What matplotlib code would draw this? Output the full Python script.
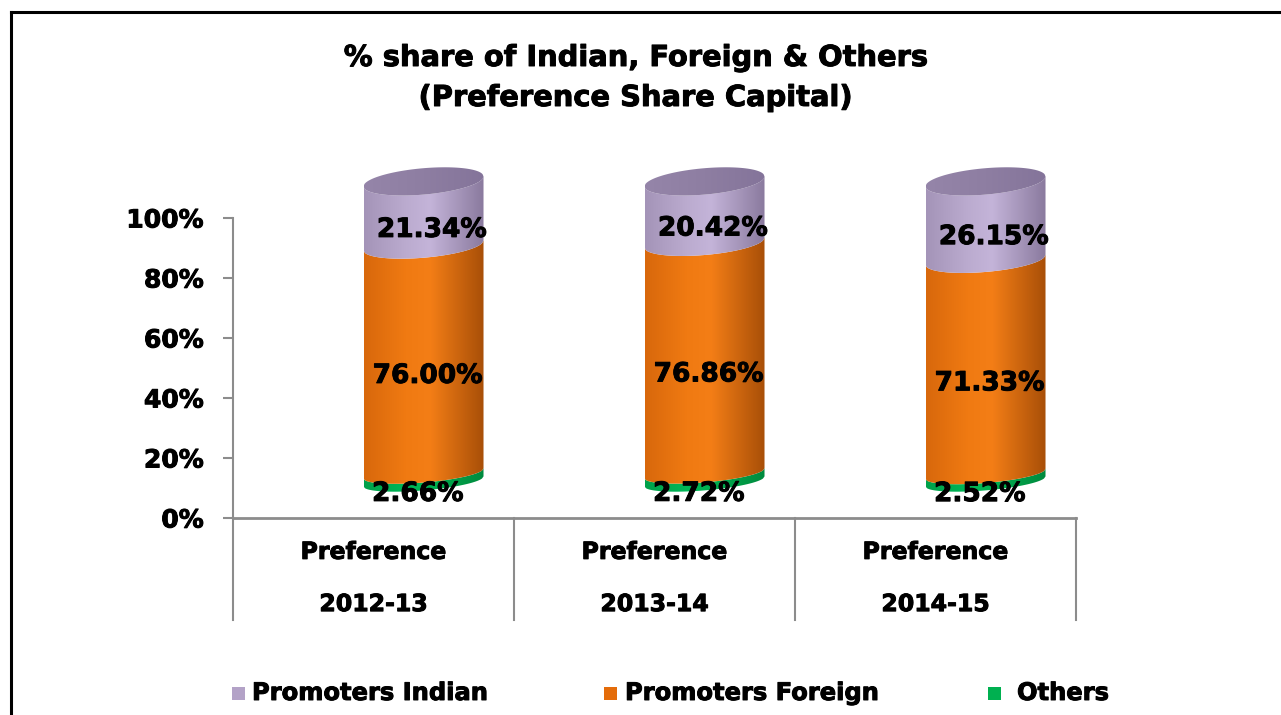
import numpy as np
import matplotlib
matplotlib.use("Agg")
import matplotlib.pyplot as plt
import matplotlib.patheffects as pe
from matplotlib.patches import Polygon, Rectangle
from matplotlib.lines import Line2D
from matplotlib.colors import LinearSegmentedColormap

# ---------- data ----------
years = ["2012-13", "2013-14", "2014-15"]
category = "Preference"
others = [2.66, 2.72, 2.52]
promoters_foreign = [76.00, 76.86, 71.33]
promoters_indian = [21.34, 20.42, 26.15]
series_names = ["Promoters Indian", "Promoters Foreign", "Others"]
y_ticks = [0, 20, 40, 60, 80, 100]

# shading ramps (left edge -> highlight -> right edge)
ramp_green = ["#00A04A", "#00B858", "#00B050", "#008A3E"]
ramp_orange = ["#D8680C", "#F07A12", "#F47E16", "#A84F08"]
ramp_purple = ["#A494B8", "#BBABCF", "#C4B4D9", "#8A7A9E"]
cap_purple = ["#9585A9", "#8E7EA2", "#84749A"]
legend_colors = ["#B3A2C7", "#E46C0A", "#00B050"]

plt.rcParams["font.family"] = "DejaVu Sans"
plt.rcParams["font.weight"] = "bold"
heavy = [pe.withStroke(linewidth=0.7, foreground="black")]

W, H = 1281, 715
fig = plt.figure(figsize=(W / 100, H / 100), dpi=100)

# axes box: y from 0 to 120 so the cylinder tops fit inside
ax = fig.add_axes([233 / W, (H - 518) / H, (1076 - 233) / W, 360 / H])
ax.set_xlim(-0.5, 2.5)
ax.set_ylim(0, 120)
ax.patch.set_alpha(0)

# ---------- cylinder geometry ----------
dx = 0.178     # depth shift to the right
a = 0.2135     # half width
b_bot, b_top = 3.0, 4.4   # ellipse half height (perspective: flatter at bottom)
tilt = 7.8     # ellipse slant
base = 12.2    # depth shift upward
label_dx = [-0.02, 0.015, 0.03]   # others, foreign, indian


def b_at(yc):
    return b_bot + (b_top - b_bot) * (yc - base) / 100.0


def front_arc(cx, yc, n=80):
    xs = np.linspace(cx - a, cx + a, n)
    t = (xs - cx) / a
    ys = yc + tilt * (xs - cx) - b_at(yc) * np.sqrt(np.clip(1 - t ** 2, 0, 1))
    return xs, ys


def shaded_piece(cx, y0, y1, ramp):
    xs0, ys0 = front_arc(cx, y0)
    xs1, ys1 = front_arc(cx, y1)
    pts = np.vstack([np.column_stack([xs0, ys0]),
                     np.column_stack([xs1[::-1], ys1[::-1]])])
    poly = Polygon(pts, closed=True, facecolor="none", edgecolor="none")
    ax.add_patch(poly)
    cmap = LinearSegmentedColormap.from_list(
        "r", list(zip([0, 0.35, 0.55, 1.0], ramp)))
    grad = np.linspace(0, 1, 256).reshape(1, -1)
    im = ax.imshow(grad, cmap=cmap, aspect="auto", interpolation="bilinear",
                   extent=[cx - a, cx + a, y0 - 6 - tilt * a, y1 + 6 + tilt * a],
                   zorder=2)
    im.set_clip_path(poly)


for i in range(len(years)):
    cx = i + dx
    segs = [(others[i], ramp_green),
            (promoters_foreign[i], ramp_orange),
            (promoters_indian[i], ramp_purple)]
    y = base
    for val, ramp in segs:
        shaded_piece(cx, y, y + val, ramp)
        y += val
    # top cap
    top = base + others[i] + promoters_foreign[i] + promoters_indian[i]
    xs = np.linspace(cx - a, cx + a, 120)
    t = (xs - cx) / a
    half = b_at(top) * np.sqrt(np.clip(1 - t ** 2, 0, 1))
    pts = np.vstack([np.column_stack([xs, top + tilt * (xs - cx) - half]),
                     np.column_stack([xs[::-1], (top + tilt * (xs - cx) + half)[::-1]])])
    cap = Polygon(pts, closed=True, facecolor="none", edgecolor="none")
    ax.add_patch(cap)
    cmap = LinearSegmentedColormap.from_list("c", cap_purple)
    im = ax.imshow(np.linspace(0, 1, 256).reshape(1, -1), cmap=cmap, aspect="auto",
                   extent=[cx - a, cx + a, top - 6 - tilt * a, top + 6 + tilt * a],
                   zorder=3)
    im.set_clip_path(cap)

    # data labels
    y = base
    for k, val in enumerate([others[i], promoters_foreign[i], promoters_indian[i]]):
        ax.text(cx + label_dx[k], y + val / 2 - 5.5, f"{val:.2f}%", ha="center",
                va="center", fontsize=19, fontweight="bold", color="black",
                zorder=5, path_effects=heavy)
        y += val

# ---------- axes ----------
axis_gray = "#8C8C8C"
for s in ["top", "right", "bottom"]:
    ax.spines[s].set_visible(False)
ax.spines["left"].set_bounds(0, 100)
ax.spines["left"].set_color(axis_gray)
ax.spines["left"].set_linewidth(1.5)
ax.set_yticks(y_ticks)
ax.set_yticklabels([f"{v}%" for v in y_ticks], fontsize=18, fontweight="bold")
for lbl in ax.get_yticklabels():
    lbl.set_path_effects(heavy)
ax.tick_params(axis="y", length=7, width=1.5, color=axis_gray, pad=14)
ax.set_xticks([])

# category axis with separators
ax.plot([-0.5, 2.5], [0, 0], color=axis_gray, lw=2, clip_on=False, zorder=1)
for xb in [-0.5, 0.5, 1.5, 2.5]:
    ax.plot([xb, xb], [0, -34], color=axis_gray, lw=1.5, clip_on=False)
for i, yr in enumerate(years):
    ax.text(i, -11.3, category, ha="center", va="center", fontsize=17,
            fontweight="bold", clip_on=False, path_effects=heavy)
    ax.text(i, -28.7, yr, ha="center", va="center", fontsize=17,
            fontweight="bold", clip_on=False, path_effects=heavy)

# ---------- title ----------
fig.text(635 / W, 1 - 58 / H, "% share of Indian, Foreign & Others",
         ha="center", va="center", fontsize=20.8, fontweight="bold", path_effects=heavy)
fig.text(635 / W, 1 - 98 / H, "(Preference Share Capital)",
         ha="center", va="center", fontsize=20.8, fontweight="bold", path_effects=heavy)

# ---------- legend ----------
leg_sq = [232, 604, 988]
leg_tx = [252, 625, 1017]
for name, col, xs_, xt in zip(series_names, legend_colors, leg_sq, leg_tx):
    fig.patches.append(Rectangle((xs_ / W, (H - 700) / H), 13 / W, 13 / H,
                                 transform=fig.transFigure, facecolor=col,
                                 edgecolor="none"))
    fig.text(xt / W, 1 - 693 / H, name, ha="left", va="center",
             fontsize=17.4, fontweight="bold", path_effects=heavy)

# ---------- outer frame (left & top edges) ----------
fig.add_artist(Line2D([11 / W, 11 / W], [0, 1 - 12 / H], color="black", lw=2.2,
                      transform=fig.transFigure))
fig.add_artist(Line2D([11 / W, 1], [1 - 12 / H, 1 - 12 / H], color="black", lw=2.2,
                      transform=fig.transFigure))

fig.savefig("out.png", dpi=100)
